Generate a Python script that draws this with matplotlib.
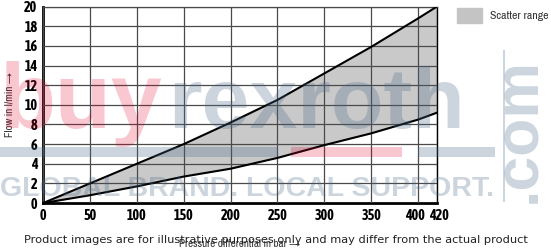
import matplotlib
matplotlib.use("Agg")
import matplotlib.pyplot as plt
import matplotlib.transforms as mtransforms

# pressure differential (bar) and flow (l/min) for the two limit curves
pressure = [0, 50, 100, 150, 200, 250, 300, 350, 400, 420]
flow_upper = [0, 2.0, 4.0, 6.0, 8.2, 10.5, 13.2, 15.9, 18.8, 20.0]
flow_lower = [0, 0.8, 1.7, 2.7, 3.5, 4.6, 5.9, 7.1, 8.5, 9.2]

x_ticks = [0, 50, 100, 150, 200, 250, 300, 350, 400, 420]
y_ticks = [0, 2, 4, 6, 8, 10, 12, 14, 16, 18, 20]

narrow = ['Archivo Narrow', 'DejaVu Sans']
narrow_bold = ['Asap Condensed', 'Archivo Narrow', 'DejaVu Sans']

fig = plt.figure(figsize=(5.51, 2.52), dpi=100)
ax = fig.add_axes([0.078, 0.194, 0.715, 0.78])

ax.fill_between(pressure, flow_lower, flow_upper, color='#c9c9c9', lw=0, zorder=1)
ax.plot(pressure, flow_upper, color='black', lw=1.5, zorder=3)
ax.plot(pressure, flow_lower, color='black', lw=1.5, zorder=3)

ax.set_xlim(0, 420)
ax.set_ylim(0, 20)
ax.set_xticks(x_ticks)
ax.set_yticks(y_ticks)
ax.grid(True, color='#4a4a4a', lw=0.9, zorder=2)
ax.set_axisbelow(False)
ax.tick_params(length=0, pad=4)
for lab in ax.get_xticklabels() + ax.get_yticklabels():
    lab.set_family(narrow_bold)
    lab.set_fontweight('bold')
    lab.set_fontsize(10.2)

# nudge the crowded 400 / 420 labels apart
xlabs = ax.get_xticklabels()
xlabs[-2].set_transform(xlabs[-2].get_transform() +
                        mtransforms.ScaledTranslation(-3 / 100, 0, fig.dpi_scale_trans))
xlabs[-1].set_transform(xlabs[-1].get_transform() +
                        mtransforms.ScaledTranslation(2 / 100, 0, fig.dpi_scale_trans))

ax.spines['left'].set_linewidth(2)
ax.spines['bottom'].set_linewidth(2)
ax.spines['top'].set_linewidth(0.9)
ax.spines['top'].set_color('#4a4a4a')
ax.spines['right'].set_linewidth(1.0)

ax.set_ylabel('Flow in l/min →', family=narrow, fontsize=8, color='#333333', labelpad=7)
ax.set_xlabel('Pressure differential in bar →', family=narrow, fontsize=8,
              color='#333333', labelpad=12)

# legend
fig.patches.append(plt.Rectangle((457 / 551, 1 - 23 / 252), 25 / 551, 15 / 252,
                                 transform=fig.transFigure, color='#c4c4c4'))
fig.text(490 / 551, 1 - 16 / 252, 'Scatter range', family=narrow, fontsize=8.5,
         color='#333333', va='center', ha='left')

# watermark
pink = (0.89, 0.0, 0.17, 0.22)
blue = (0.29, 0.42, 0.54, 0.28)
fig.text(0, 1 - 128 / 252, 'buy', family='Liberation Sans', fontweight='bold',
         fontsize=66, color=pink, zorder=10)
fig.text(168 / 551, 1 - 128 / 252, 'rexroth', family='Liberation Sans',
         fontweight='bold', fontsize=62, color=blue, zorder=10)
fig.text(548 / 551, 1 - 130 / 252, '.com', family='Liberation Sans', fontweight='bold',
         fontsize=45, color=blue, rotation=90, ha='right', va='center', zorder=10)
fig.text(0, 1 - 196 / 252, 'GLOBAL BRAND. LOCAL SUPPORT.', family='Liberation Sans',
         fontweight='bold', fontsize=20.5, color=blue, zorder=10)
for x0, x1, c in [(0, 278, blue), (291, 402, pink), (418, 495, blue)]:
    fig.patches.append(plt.Rectangle((x0 / 551, 1 - 157 / 252), (x1 - x0) / 551,
                                     10 / 252, transform=fig.transFigure,
                                     color=c, lw=0, zorder=10))
fig.patches.append(plt.Rectangle((503 / 551, 1 - 202 / 252), 2 / 551, 152 / 252,
                                 transform=fig.transFigure, color=blue, lw=0, zorder=10))

fig.text(0.5, 1 - 240 / 252, 'Product images are for illustrative purposes only and may '
         'differ from the actual product', fontsize=8.2, color='#222222',
         ha='center', va='center', zorder=11)

fig.savefig('out.png', dpi=100)
